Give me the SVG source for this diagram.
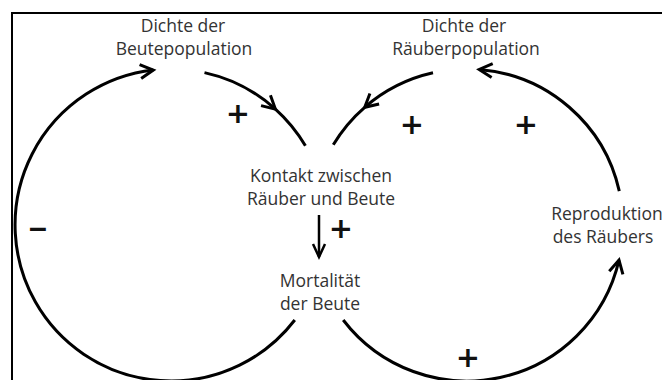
<svg xmlns="http://www.w3.org/2000/svg" width="662" height="380" viewBox="0 0 662 380">
  <style>
    .lbl { font-family: "Open Sans", "Noto Sans", "Liberation Sans", sans-serif; font-size: 17.5px; fill: #333333; text-anchor: middle; }
    .sign { font-family: "DejaVu Sans", "Liberation Sans", sans-serif; font-size: 29px; font-weight: bold; fill: #111111; text-anchor: middle; }
    .minus { font-family: "Liberation Sans", Arial, sans-serif; font-size: 32px; font-weight: bold; fill: #111111; text-anchor: middle; }
    .arc { fill: none; stroke: #000000; stroke-width: 3; }
    .frame { fill: none; stroke: #000000; stroke-width: 2; }
  </style>
  <defs>
    <marker id="chev" markerUnits="userSpaceOnUse" viewBox="-16 -10 20 20" markerWidth="20" markerHeight="20" refX="0" refY="0" orient="auto" overflow="visible">
      <path d="M-13,-7 L0,0 L-13,7" fill="none" stroke="#000000" stroke-width="3" stroke-linejoin="miter"/>
    </marker>
    <marker id="chevSmall" markerUnits="userSpaceOnUse" viewBox="-16 -10 20 20" markerWidth="20" markerHeight="20" refX="0" refY="0" orient="auto" overflow="visible">
      <path d="M-13,-6 L0,0 L-13,6" fill="none" stroke="#000000" stroke-width="2.5" stroke-linejoin="miter"/>
    </marker>
  </defs>

  <rect width="662" height="380" fill="#ffffff"/>
  <g id="frame">
    <path class="frame" d="M12,380 L12,13 L662,13"/>
  </g>

  <g id="connectors">
    <!-- left circle: big arc from Mortalität around to Beutepopulation (negative) -->
    <path class="arc" d="M294.8,320 A156,156 0 1 1 153.3,70" marker-end="url(#chev)"/>
    <!-- left circle: Beutepopulation to Kontakt -->
    <path class="arc" d="M204.5,72.6 A156,156 0 0 1 275.4,109.1" marker-end="url(#chev)"/>
    <path class="arc" d="M275.4,109.1 A156,156 0 0 1 305.4,145.8"/>
    <!-- right circle: Räuberpopulation to Kontakt -->
    <path class="arc" d="M433,72.8 A156,156 0 0 0 364.7,107.3" marker-end="url(#chev)"/>
    <path class="arc" d="M364.7,107.3 A156,156 0 0 0 333.3,144.7"/>
    <!-- right circle: Mortalität to Reproduktion -->
    <path class="arc" d="M343.2,320 A156,156 0 0 0 619,260.1" marker-end="url(#chev)"/>
    <!-- right circle: Reproduktion to Räuberpopulation -->
    <path class="arc" d="M619.3,191.2 A156,156 0 0 0 479.2,69.5" marker-end="url(#chev)"/>
    <!-- Kontakt to Mortalität -->
    <path d="M319,215 L319,257" fill="none" stroke="#000000" stroke-width="2.5" marker-end="url(#chevSmall)"/>
  </g>

  <g id="node-beute">
    <text class="lbl" x="183" y="32">Dichte der</text>
    <text class="lbl" x="184" y="55">Beutepopulation</text>
  </g>
  <g id="node-raeuber">
    <text class="lbl" x="464" y="32">Dichte der</text>
    <text class="lbl" x="466" y="55">Räuberpopulation</text>
  </g>
  <g id="node-kontakt">
    <text class="lbl" x="321" y="182">Kontakt zwischen</text>
    <text class="lbl" x="321" y="205">Räuber und Beute</text>
  </g>
  <g id="node-mortalitaet">
    <text class="lbl" x="320" y="287">Mortalität</text>
    <text class="lbl" x="320" y="310">der Beute</text>
  </g>
  <g id="node-reproduktion">
    <text class="lbl" x="607" y="220">Reproduktion</text>
    <text class="lbl" x="603" y="243">des Räubers</text>
  </g>

  <g id="signs">
    <text class="sign" x="238" y="122.5">+</text>
    <text class="sign" x="412" y="133.5">+</text>
    <text class="sign" x="526" y="133.5">+</text>
    <text class="sign" x="341" y="238">+</text>
    <text class="sign" x="468" y="366.5">+</text>
    <text class="minus" x="38" y="237.5">–</text>
  </g>
</svg>
